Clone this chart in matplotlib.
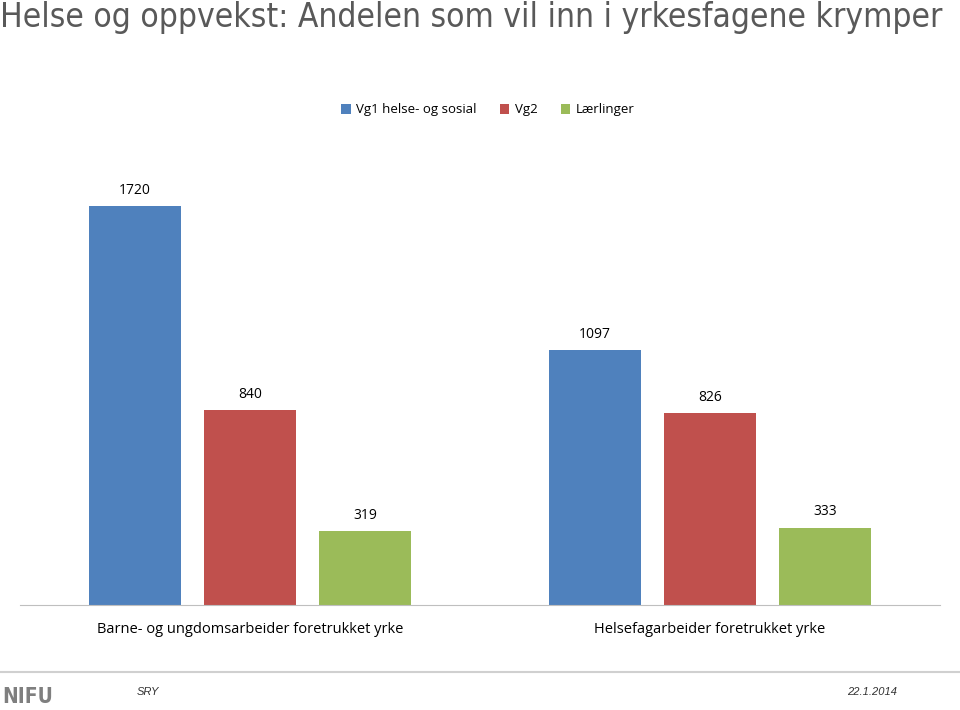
import numpy as np
import matplotlib.pyplot as plt

# Chart data
categories = ["Barne- og ungdomsarbeider foretrukket yrke", "Helsefagarbeider foretrukket yrke"]
series_names = ["Vg1 helse- og sosial", "Vg2", "Lærlinger"]
vg1 = [1720, 1097]
vg2 = [840, 826]
laerlinger = [319, 333]

colors = ["#4F81BD", "#C0504D", "#9BBB59"]
series = [vg1, vg2, laerlinger]

fig = plt.figure(figsize=(9.6, 7.1), dpi=100)
ax = fig.add_axes([20 / 960, 105 / 710, 920 / 960, 464 / 710])

x = np.arange(len(categories))
width = 0.198
offsets = [-0.25, 0, 0.25]

for vals, name, color, off in zip(series, series_names, colors, offsets):
    bars = ax.bar(x + off, vals, width, color=color, label=name)
    for b, v in zip(bars, vals):
        ax.annotate(str(v), (b.get_x() + b.get_width() / 2, v),
                    xytext=(0, 6), textcoords="offset points",
                    ha="center", va="bottom", fontsize=10, family="Open Sans")

ax.set_xlim(-0.5, 1.5)
ax.set_ylim(0, 2000)
ax.set_yticks([])
ax.set_xticks(x)
ax.set_xticklabels(categories, fontsize=10.5, family="Open Sans")
ax.tick_params(axis="x", length=0, pad=12)
for s in ["top", "right", "left"]:
    ax.spines[s].set_visible(False)
ax.spines["bottom"].set_color("#BFBFBF")

ax.legend(loc="center", bbox_to_anchor=(488 / 960, 600 / 710), bbox_transform=fig.transFigure,
          ncol=3, frameon=False, prop={"family": "Open Sans", "size": 9.5},
          handlelength=0.7, handleheight=0.7, handletextpad=0.4, columnspacing=1.8)

# Title, shrunk to fit the same width as the original
title = fig.text(0.0, 1 - 17 / 710, "Helse og oppvekst: Andelen som vil inn i yrkesfagene krymper",
                 fontsize=25, color="#595959", va="center", ha="left",
                 family="DejaVu Sans", fontstretch="condensed")
fig.canvas.draw()
w = title.get_window_extent().width
title.set_fontsize(25 * 942 / w)

# Footer
fig.add_artist(plt.Line2D([0, 1], [1 - 672 / 710] * 2, color="#D0D0D0", lw=1.5,
                          transform=fig.transFigure))
fig.text(2 / 960, 1 - 697 / 710, "NIFU", fontsize=15, color="#7F7F7F", va="center",
         ha="left", family="DejaVu Sans", fontstretch="condensed", fontweight="bold")
fig.text(137 / 960, 1 - 692 / 710, "SRY", fontsize=8, style="italic", color="#333333",
         va="center", ha="left", family="Liberation Sans")
fig.text(897 / 960, 1 - 692 / 710, "22.1.2014", fontsize=8, style="italic", color="#333333",
         va="center", ha="right", family="Liberation Sans")

fig.savefig("out.png", dpi=100)
